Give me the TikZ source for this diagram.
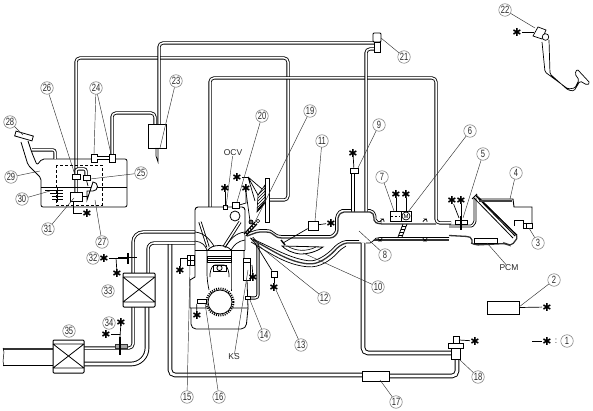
\documentclass[tikz,border=0pt]{standalone}
\usepackage{fontspec}
\setmainfont{Liberation Sans}
\newfontfamily\labfont[FakeStretch=0.72]{Liberation Sans}
\newfontfamily\starfont{DejaVu Sans}
\usetikzlibrary{patterns}
\tikzset{
  num/.style={circle,draw=black!55,line width=.5pt,inner sep=0pt,minimum size=12.5pt,font=\labfont\fontsize{10.5}{10.5}\selectfont,text=black!85},
  txt/.style={inner sep=0pt,font=\fontsize{8.5}{9}\selectfont,text=black!85},
  starn/.style={inner sep=0pt,font=\starfont\fontsize{11}{11}\selectfont},
  leader/.style={draw=black!80,line width=.45pt},
  wire/.style={draw=black,line width=.7pt},
  pipe/.style={draw=black,double=white,line width=.85pt,double distance=1.5pt,rounded corners=4pt},
  widepipe/.style={draw=black,double=white,line width=.95pt,double distance=2.8pt,rounded corners=5pt},
  thin wall/.style={draw=black,line width=.7pt,rounded corners=2pt},
  heavy wall/.style={draw=black!80,line width=1.3pt,rounded corners=2pt},
  part/.style={draw=black,line width=.8pt,fill=white},
  hosebar/.style={draw=black!80,line width=.9pt,fill=black!35}
}
\newcommand{\N}[3]{\node[num] (n#1) at (#2) {#3};}
\newcommand{\St}[2]{\node[starn] (#1) at (#2) {✱};}
\newcommand{\Lead}[3]{\coordinate (e#1) at (#3); \draw[leader] (#2) -- (e#1);}
\begin{document}
\begin{tikzpicture}[x=1pt,y=-1pt]
\useasboundingbox (0,0) rectangle (593,411);

% ---------- long pipes ----------
\draw[pipe] (76,192) -- (76,58) -- (288,58) -- (288,200) -- (270,200);
\draw[pipe] (159,124) -- (159,43) -- (375,43);
\draw[pipe] (155,124) -- (155,113) -- (112,113) -- (112,155);
\draw[pipe] (210,207) -- (210,78) -- (436,78) -- (436,223) -- (451,223);
\draw[pipe] (376,49) -- (366,49) -- (366,212);
\draw[pipe] (353,173) -- (353,212);
\draw[widepipe] (363,243) -- (363,353) -- (451,353);
\draw[widepipe] (170,243) -- (170,375) -- (362,375);
\draw[widepipe] (389,376) -- (457,376) -- (457,359);
\draw[pipe,rounded corners=10pt] (195,232) -- (133,232) -- (133,274);
\draw[pipe,rounded corners=6pt] (195,243) -- (148,243) -- (148,274);
\draw[pipe,rounded corners=4pt] (133,307) -- (133,348) -- (84,348);
\draw[widepipe,rounded corners=16pt] (147,307) -- (147,364) -- (84,364);
\draw[black!80,line width=1.4pt] (3,349) -- (53,349);
\draw[black,line width=.9pt] (3,365.5) -- (53,365.5);
\draw[black,line width=.5pt] (3,348) .. controls (6,353) and (1,360) .. (4,366);

% ---------- fuel tank ----------
\draw[black,line width=.8pt,rounded corners=2pt]
  (21,142) -- (28,165) -- (41,178) -- (41,207) -- (127,207) -- (127,159) -- (42,159) -- (37,165) -- (32,153) -- (28,141);
\draw[part,rotate around={-16:(24,136)}] (15,133.5) rectangle (33,138.5);
\draw[pipe,rounded corners=2pt] (32,150) -- (55,150) -- (55,159);
\draw[black,line width=.7pt] (41,187) -- (127,187);
\draw[black,line width=.8pt,dashed,dash pattern=on 3pt off 2pt] (56,165) rectangle (102,205);
\draw[black,line width=.6pt] (45,190) -- (63,190) (50,193) -- (63,193) (52,196) -- (63,196) (52,199) -- (63,199) (57,187) -- (57,202);
\node[part,minimum width=12pt,minimum height=9pt,inner sep=0pt] (pump) at (76,196.5) {};
\draw[black,line width=1.6pt] (pump.east) -- (87,196.5);
\draw[part] (87,191) -- (93,191) arc (90:-90:4.5) -- (87,200) -- cycle;
\node[part,minimum width=6pt,minimum height=8pt,inner sep=0pt] (t24a) at (94,158) {};
\node[part,minimum width=6pt,minimum height=8pt,inner sep=0pt] (t24b) at (112,158) {};
\draw[pipe,double distance=1.4pt,rounded corners=0pt] (t24a.east) -- (t24b.west);
\draw[pipe,rounded corners=2pt] (76,175) -- (76,169) -- (86,169) -- (86,175);
\node[part,minimum width=8pt,minimum height=5pt,inner sep=0pt] (t26) at (76,176.5) {};
\node[part,minimum width=7pt,minimum height=5pt,inner sep=0pt] (t25) at (86.5,177.5) {};
\draw[black,line width=.7pt] (t25.south) -- (88,186);
\node[part,minimum width=18pt,minimum height=24pt,inner sep=0pt] (can) at (157,136) {};
\draw[black,line width=.7pt] (156,148) -- (156,156) -- (158,162) -- (158,148);
\St{sp}{87,213}
\draw[wire] (pump.south west) ++(4,0) |- (sp);

% ---------- engine ----------
\draw[black,line width=.9pt,rounded corners=3pt] (195,250) -- (195,207) -- (245,207) -- (245,250);
\draw[black,line width=.9pt] (195,250) -- (245,250);
\draw[pipe,double distance=1.5pt,rounded corners=0pt] (200,222) -- (208,247);
\draw[pipe,double distance=1.5pt,rounded corners=0pt] (240,222) -- (224,247);
\draw[black,line width=.7pt] (195,232) .. controls (205,233) and (210,240) .. (214,246);
\draw[black,line width=.7pt] (195,241) .. controls (202,242) and (205,245) .. (207,250);
\draw[black,line width=.7pt] (245,232) .. controls (235,233) and (230,240) .. (226,246);
\draw[black,line width=.7pt] (245,240) .. controls (238,241) and (234,245) .. (231,250);
\draw[black,line width=.8pt] (208,250) .. controls (212,244) and (226,244) .. (231,250);
\draw[black,line width=.8pt] (195,250) -- (195,277) -- (190,280) -- (190,308) -- (248,308) -- (247,280) -- (244,277) -- (244,250);
\draw[black,line width=.8pt,rounded corners=5pt] (191,308) -- (191,329) -- (246,329) -- (248,308);
\draw[black,line width=.7pt] (207,250) -- (207,272) .. controls (207,280) and (208,285) .. (209,290);
\draw[black,line width=.7pt] (231,250) -- (231,272) .. controls (231,278) and (231,283) .. (231,291);
\draw[part] (207,256) rectangle (231,262);
\draw[black,line width=.6pt] (207,258) -- (231,258) (207,260) -- (231,260);
\draw[black,line width=.7pt,rounded corners=2pt] (210,277) -- (210,272) -- (213,265) -- (226,265) -- (229,272) -- (229,277);
\draw[black,line width=.8pt] (213,265) rectangle (226,271);
\draw[black,line width=.8pt] (219.5,268) circle (2.6);
\draw[black,fill=white,line width=.8pt] (220,302) circle (12);
\draw[black,line width=2pt,dash pattern=on 1pt off 1.2pt] (220,302) circle (13.5);
\node[part,minimum width=9pt,minimum height=4pt,inner sep=0pt] (ckp) at (201.5,301.5) {};
\St{sc}{197,315}
\draw[wire] (ckp.south west) -- (sc);
\node[part,minimum width=7pt,minimum height=22pt,inner sep=0pt] (ks) at (247,269) {};
\draw[black,line width=.7pt] (243.5,262) -- (250.5,262);
\St{sk}{253,277}
\draw[wire] (252,265) -- (sk);
\draw[pipe,double distance=1.4pt,rounded corners=3pt] (250,298) -- (258,298) -- (258,245) -- (252,238);
\node[part,minimum width=5pt,minimum height=3pt,inner sep=0pt] (s14) at (248,298) {};
\draw[part] (187,255) rectangle (194,265);
\draw[black,line width=.6pt] (187,260) -- (194,260) (190,255) -- (190,265);
\St{s15}{180,270}
\draw[wire] (s15) -- (180,258) -- (187,258);

% ---------- top of engine: OCV and coils ----------
\St{so}{225,188}
\node[part,minimum width=4pt,minimum height=4pt,inner sep=0pt] (oc) at (225,207) {};
\draw[wire] (so) -- (oc);
\St{s20a}{237,177}
\St{s20b}{246,188}
\node[part,minimum width=7pt,minimum height=6pt,inner sep=0pt] (ocv) at (235.5,205) {};
\draw[black,fill=white,line width=.8pt] (235,216) circle (5);
\draw[wire] (s20b) -- (246,203) -- (ocv.east);
\draw[wire] (s20a) -- (248,177);
\draw[wire] (248,177) -- (262,189) (248,177) -- (258,195) (248,177) -- (255,201);
\draw[wire] (246,192) -- (250,221);
\draw[part] (265,178) rectangle (269,222);
\draw[black,line width=.6pt,pattern=north east lines,pattern color=black] (258,195) -- (265,185) -- (265,203) -- (257,212) -- cycle;
\draw[black,line width=1.8pt] (258,210) -- (265,202);
\draw[black,line width=3.8pt] (245,235) -- (256,223);
\draw[white,line width=1.2pt,dash pattern=on 1.5pt off 1.5pt] (245,235) -- (256,223);
\draw[black,line width=.8pt,fill=black!60] (251,222) circle (2);
\draw[black,fill=white,line width=.6pt] (258,221) circle (1.8);

% ---------- intake ----------
\draw[heavy wall] (247,236) -- (258,232) -- (268,232) .. controls (272,233) and (276,237) .. (280,238) -- (328,238)
  .. controls (334,238) and (338,234) .. (338,228) -- (338,216) -- (342,212) -- (353,212) -- (366,212) -- (372,212) -- (374,216) -- (374,222) -- (380,224) -- (436,224);
\draw[thin wall] (246,233.5) -- (258,229.5) -- (268,229.5) .. controls (272,230.5) and (276,234.5) .. (280,235.5) -- (328,235.5)
  .. controls (332,235.5) and (335.5,232) .. (335.5,228) -- (335.5,216) -- (340,209.5) -- (351,209.5);
\draw[thin wall] (368,209.5) -- (372,209.5) -- (376,214) -- (376,221) -- (382,222);
\draw[thin wall] (380,222) -- (381,219) -- (384,219) -- (384,222) (423,222) -- (424,219) -- (427,219) -- (427,222);
\draw[heavy wall] (253,240) .. controls (272,250) and (288,262) .. (310,264) .. controls (322,263) and (332,254) .. (338,247) -- (345,243) -- (361,243);
\draw[thin wall] (251,242) .. controls (270,253) and (286,265) .. (310,267) .. controls (324,266) and (334,257) .. (340,250) -- (346,246);
\draw[thin wall] (250,238) .. controls (270,246) and (288,258) .. (310,261) .. controls (320,260) and (330,252) .. (336,245) -- (344,240.5) -- (359,240.5);
\draw[thin wall] (366,243) -- (372,243) -- (374,239) -- (378,237.5) -- (449,237.5);
\draw[heavy wall] (374,240) -- (449,240);
\draw[heavy wall] (449,235.5) -- (468,236.5) -- (472,238) -- (472,243);
\draw[thin wall] (378,238) -- (379,241) -- (381,241) -- (382,238) (423,238) -- (424,241) -- (426,241) -- (427,238);
\draw[black,line width=.8pt,fill=white] (282,246) -- (323,247) .. controls (316,252) and (308,254) .. (300,254) .. controls (292,253) and (286,250) .. (282,246) -- cycle;
\draw[black,line width=.6pt] (288,246.5) .. controls (296,251) and (306,252) .. (316,247);
\draw[black,line width=1.4pt] (281,240) -- (285,245);
% throttle
\draw[black,line width=.8pt] (398,237) -- (403,224) (402,237) -- (407,224);
\draw[black,line width=.5pt] (399,235) -- (403,235) (400,232) -- (404,232) (401,229) -- (405,229) (402,226) -- (406,226);
\node[part,minimum width=11pt,minimum height=10pt,inner sep=0pt] (m6) at (395.5,216) {};
\draw[black,line width=.5pt,dash pattern=on 2pt off 2pt] (391,216) -- (400,216);
\node[part,minimum width=10pt,minimum height=10pt,inner sep=0pt] (m7) at (406,216) {};
\node[circle,draw=black,line width=.7pt,inner sep=0pt,minimum size=8pt,font=\fontsize{6}{6}\selectfont] (mm) at (406,216) {M};
\St{s7a}{396,194}
\St{s7b}{406,194}
\draw[wire] (s7a) -- (396,211);
\draw[wire] (s7b) -- (406,211);
% 5
\draw[pipe,rounded corners=1pt,double distance=1.2pt] (449,226) -- (472,226) -- (475,222) -- (475,198);
\node[part,minimum width=12pt,minimum height=4pt,inner sep=0pt] (c5) at (461,222) {};
\draw[black,line width=1.2pt] (461,216) -- (461,230);
\St{s5a}{452,200}
\St{s5b}{461,200}
\draw[wire] (s5a) -- (459,218);
\draw[wire] (s5b) -- (461,216);
% air cleaner
\draw[heavy wall] (476,195) -- (518,237) -- (512,245) -- (508,245) -- (506,243.5) -- (476,245) -- (471,243);
\draw[black,line width=.8pt] (472,199) -- (477,194);
\draw[black,line width=.8pt] (474,198) -- (513,238) (476,196) -- (515,236) (479,198) -- (517,235);
\draw[black,line width=.9pt] (478,199) -- (513,199) -- (514,207) -- (532,207) -- (532,223);
\draw[black,line width=.9pt] (514,226) -- (514,220) -- (523,220) -- (523,223);
\draw[black!75,line width=1.2pt] (479,201) -- (512,201);
\node[part,minimum width=9pt,minimum height=5pt,inner sep=0pt] (s3) at (527.5,225.5) {};
\draw[black,line width=.5pt] (526,223) -- (526,228);
\draw[black,line width=.8pt,fill=white] (474,238) rectangle (497,243);
% sensor 9, 21, 11, 13
\node[part,minimum width=8pt,minimum height=5pt,inner sep=0pt] (s9) at (354,170.5) {};
\St{st9}{353,153}
\draw[wire] (st9) -- (s9);
\draw[part,rounded corners=1pt] (373,33) rectangle (381,42);
\draw[part] (374,42) rectangle (380,52);
\node[part,minimum width=10pt,minimum height=9pt,inner sep=0pt] (s11) at (313,225.5) {};
\St{st11}{331,223}
\draw[wire] (s11) -- (st11);
\draw[wire] (s11) -- (283,243);
\node[part,minimum width=6pt,minimum height=6pt,inner sep=0pt] (s13) at (274,274) {};
\St{st13}{274,287}
\draw[wire] (s13) -- (st13);
\draw[wire] (s13) -- (255,243);

% ---------- filters, lower sensors ----------
\newcommand{\Filter}[5]{%
  \draw[black,line width=1pt,fill=white,rounded corners=1pt] (#1,#2) rectangle (#3,#4);
  \draw[black,line width=.8pt] (#1,#2+4) -- (#3,#2+4) (#1,#4-5) -- (#3,#4-5)
     (#1,#2+4) -- (#3,#4-5) (#3,#2+4) -- (#1,#4-5);}
\Filter{123}{273}{155}{307}{}
\Filter{53}{340}{84}{373}{}
\draw[black,line width=.9pt] (118,257) -- (137,257);
\draw[black,line width=1.6pt] (128,253) -- (128,264);
\St{s32a}{104,258}
\St{s32b}{117,273}
\draw[wire] (s32a) -- (127,258);
\draw[wire] (116,258) -- (s32b);
\draw[hosebar] (115,344.5) rectangle (127,348);
\draw[black,line width=1.5pt] (120,337) -- (120,355);
\St{s34a}{121,322}
\St{s34b}{106,334}
\draw[wire] (s34a) -- (120,337);
\draw[wire] (s34b) -- (120,334);
\node[part,minimum width=27pt,minimum height=10pt,inner sep=0pt] (b17) at (375.5,376) {};
\draw[part] (451,348) rectangle (460,359);
\draw[part] (448,343) rectangle (463,348);
\draw[part] (453,336) rectangle (459,343);
\St{st18}{475,341}
\draw[wire] (459,340) -- (st18);
\node[part,minimum width=32pt,minimum height=13pt,inner sep=0pt] (b2) at (503,307.5) {};
\St{st2}{547,307}
\draw[wire] (b2.east) -- (st2);
\coordinate (lg) at (532,341);
\St{st1}{547,341}
\draw[wire] (lg) -- (st1);
\node[txt] (colon) at (556,341) {:};

% ---------- pedal ----------
\draw[black,line width=.7pt,rounded corners=1.5pt,fill=white] (542,42) -- (545,72) -- (568,89) -- (575,88) -- (579,80) -- (575,74) -- (577,69) -- (590,83) -- (587,85) -- (580,81) -- (574,91) -- (568,90) -- (550,74) -- (549,40);
\draw[part,line width=.7pt] (538,27) -- (546,30) -- (542,39) -- (533,36) -- cycle;
\draw[black,fill=white,line width=.7pt] (545.5,37) circle (3.3);
\St{st22}{517,32}
\draw[wire] (st22) -- (534,32);

% ---------- numbers ----------
\N{1}{567,341}{1} \N{2}{554,280}{2} \N{3}{538,243}{3} \N{4}{516,173}{4}
\N{5}{483,154}{5} \N{6}{470,131}{6} \N{7}{382,177}{7} \N{8}{385,255}{8}
\N{9}{379,125}{9} \N{10}{378,287}{10} \N{11}{322,141}{11} \N{12}{324,298}{12}
\N{13}{301,345}{13} \N{14}{264,335}{14} \N{15}{187,397}{15} \N{16}{219,397}{16}
\N{17}{396,402}{17} \N{18}{478,377}{18} \N{19}{310,111}{19} \N{20}{262,116}{20}
\N{21}{404,57}{21} \N{22}{505,10}{22} \N{23}{176,81}{23} \N{24}{96,88}{24}
\N{25}{141,173}{25} \N{26}{47,88}{26} \N{27}{102,242}{27} \N{28}{10,122}{28}
\N{29}{11,177}{29} \N{30}{22,199}{30} \N{31}{48,229}{31} \N{32}{93,258}{32}
\N{33}{108,291}{33} \N{34}{109,323}{34} \N{35}{69,331}{35}
\node[txt] (tocv) at (233,153) {OCV};
\node[txt] (tks) at (234,357) {KS};
\node[txt] (tpcm) at (509,268) {PCM};

% ---------- leaders ----------
\Lead{a2}{n2}{519,307}
\Lead{a3}{n3}{529,228}
\Lead{a4}{n4}{510,199}
\Lead{a5}{n5}{463,218}
\Lead{a6}{n6}{408,212}
\Lead{a7}{n7}{394,211}
\Lead{a8}{n8}{359,231}
\Lead{a9}{n9}{358,168}
\Lead{a10}{n10}{303,253}
\Lead{a11}{n11}{315,221}
\Lead{a12}{n12}{253,241}
\Lead{a13}{n13}{276,290}
\Lead{a14}{n14}{250,300}
\Lead{a15}{n15}{190,265}
\Lead{a16}{n16}{205,303}
\Lead{a17}{n17}{380,380}
\Lead{a18}{n18}{460,360}
\Lead{a19}{n19}{255,222}
\Lead{a20}{n20}{237,202}
\Lead{a21}{n21}{381,38}
\Lead{a22}{n22}{535,28}
\Lead{a23}{n23}{160,148}
\Lead{a24a}{n24}{94,154}
\Lead{a24b}{n24}{111,154}
\Lead{a25}{n25}{90,179}
\Lead{a26}{n26}{75,175}
\Lead{a27}{n27}{95,200}
\Lead{a28}{n28}{23,135}
\Lead{a29}{n29}{40,171}
\Lead{a30}{n30}{50,191}
\Lead{a31}{n31}{74,198}
\Lead{aocv}{tocv}{226,207}
\Lead{aks}{tks}{248,270}
\Lead{apcm}{tpcm}{487,243}
\end{tikzpicture}
\end{document}
